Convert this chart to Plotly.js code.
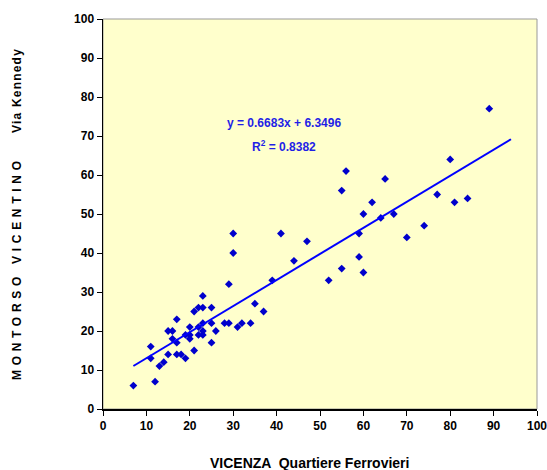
<!DOCTYPE html>
<html><head><meta charset="utf-8">
<script src="https://cdn.plot.ly/plotly-3.0.1.min.js"></script>
<style>body{margin:0;background:#fff}</style>
</head><body>
<div id="chart" style="width:547px;height:470px"></div>
<script>
const vicenza = [7,11,11,12,13,14,15,15,16,16,17,17,17,18,19,19,20,20,20,21,21,22,22,22,23,23,23,23,23,25,25,25,26,28,29,29,30,30,31,32,34,35,37,39,41,44,47,52,55,55,56,59,59,60,60,62,64,65,67,70,74,77,80,81,84,89];
const montorso = [6,16,13,7,11,12,20,14,20,18,23,17,14,14,19,13,21,19,18,25,15,26,21,19,29,26,22,20,19,26,22,17,20,22,32,22,45,40,21,22,22,27,25,33,45,38,43,33,56,36,61,45,39,50,35,53,49,59,50,44,47,55,64,53,54,77];
const slope = 0.6683, intercept = 6.3496;
const trendX = [7, 94];
const trendY = trendX.map(x => slope * x + intercept);
const eqText = 'y = 0.6683x + 6.3496';
const r2Text = 'R<sup>2</sup> = 0.8382';
const xTitle = 'VICENZA  Quartiere Ferrovieri';
const yTitleMain = 'MONTORSO VICENTINO';
const yTitleSub = 'Via Kennedy';

const fontFam = '"Liberation Sans", Arial, sans-serif';
const gap = '\u00A0'.repeat(7);
const yTitleHtml = '<span style="letter-spacing:4.7px">' + yTitleMain + '</span>' +
  gap + '<span style="letter-spacing:1.2px">' + yTitleSub + '</span>';
const data = [
  {x: vicenza, y: montorso, mode: 'markers', type: 'scatter',
   marker: {symbol: 'diamond', size: 6, color: '#0000CC'}},
  {x: trendX, y: trendY, mode: 'lines', type: 'scatter',
   line: {color: '#0000FF', width: 2}}
];
const axisCommon = {
  range: [0, 100], dtick: 10, showgrid: false, zeroline: false,
  showline: true, linecolor: '#000', linewidth: 1.5,
  ticks: 'outside', ticklen: 5, tickcolor: '#000', tickwidth: 1,
  ticklabeloverflow: 'allow',
  tickfont: {family: fontFam, size: 12, color: '#000', weight: 'bold'}
};
const layout = {
  width: 547, height: 470, showlegend: false,
  paper_bgcolor: '#fff', plot_bgcolor: '#FFFFCC',
  margin: {l: 103, r: 10, t: 19, b: 61, autoexpand: false},
  xaxis: Object.assign({}, axisCommon),
  yaxis: Object.assign({}, axisCommon, {
    title: {text: yTitleHtml, standoff: 50, font: {family: fontFam, size: 12, color: '#000', weight: 'bold'}}
  }),
  shapes: [{type: 'rect', xref: 'paper', yref: 'paper', x0: 0, x1: 1, y0: 0, y1: 1,
            line: {color: '#999', width: 1}, layer: 'below'}],
  annotations: [
    {x: 0.475, y: -0.138, xref: 'paper', yref: 'paper', yanchor: 'middle', text: xTitle, showarrow: false,
     font: {family: fontFam, size: 14, color: '#000', weight: 'bold'}},
    {x: 41.7, y: 73.3, xref: 'x', yref: 'y', text: eqText, showarrow: false,
     font: {family: fontFam, size: 12, color: '#1F1FE6', weight: 'bold'}},
    {x: 41.7, y: 67.5, xref: 'x', yref: 'y', text: r2Text, showarrow: false,
     font: {family: fontFam, size: 12, color: '#1F1FE6', weight: 'bold'}}
  ]
};
Plotly.newPlot('chart', data, layout, {displayModeBar: false, staticPlot: true});
</script>
</body></html>
